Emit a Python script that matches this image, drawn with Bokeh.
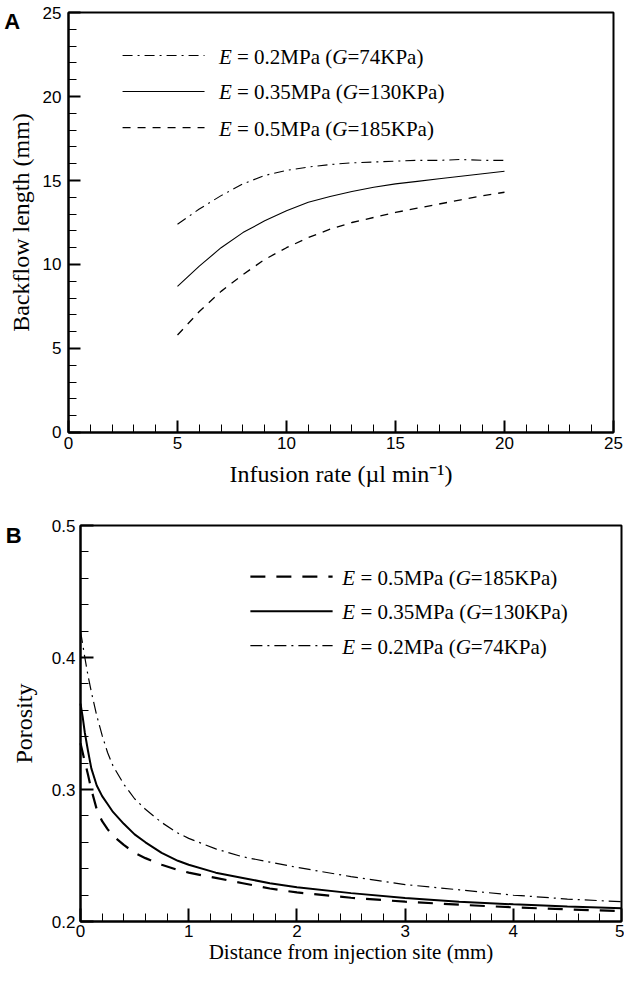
from bokeh.plotting import figure
from bokeh.models import FixedTicker, Label, Arrow, Range1d, BoxAnnotation
from bokeh.layouts import column
from bokeh.embed import file_html
from bokeh.resources import INLINE

# ---------------- Panel A data ----------------
rate = [5, 6, 7, 8, 9, 10, 11, 12, 13, 14, 15, 16, 17, 18, 19, 20]
backflow_e02 = [12.4, 13.3, 14.1, 14.8, 15.3, 15.6, 15.8, 15.95, 16.05, 16.1, 16.15, 16.2, 16.2, 16.25, 16.2, 16.2]
backflow_e035 = [8.7, 9.9, 11.0, 11.9, 12.6, 13.2, 13.7, 14.05, 14.35, 14.6, 14.8, 14.95, 15.1, 15.25, 15.4, 15.55]
backflow_e05 = [5.8, 7.2, 8.4, 9.4, 10.3, 11.0, 11.6, 12.1, 12.5, 12.8, 13.1, 13.35, 13.6, 13.85, 14.1, 14.3]

# ---------------- Panel B data ----------------
dist = [0, 0.02, 0.04, 0.07, 0.1, 0.15, 0.2, 0.25, 0.3, 0.4, 0.5, 0.6, 0.75, 0.9, 1.0,
        1.25, 1.5, 1.75, 2, 2.5, 3, 3.5, 4, 4.5, 5]
por_e02 = [0.420, 0.410, 0.400, 0.386, 0.374, 0.356, 0.341, 0.328, 0.318, 0.304, 0.293, 0.285, 0.275,
           0.267, 0.263, 0.255, 0.249, 0.245, 0.241, 0.234, 0.228, 0.224, 0.220, 0.217, 0.215]
por_e035 = [0.365, 0.355, 0.343, 0.329, 0.316, 0.303, 0.295, 0.289, 0.283, 0.274, 0.266, 0.260, 0.252,
            0.246, 0.243, 0.237, 0.233, 0.229, 0.226, 0.2215, 0.2178, 0.215, 0.213, 0.2113, 0.210]
por_e05 = [0.335, 0.328, 0.321, 0.311, 0.300, 0.285, 0.276, 0.270, 0.265, 0.258, 0.252, 0.248, 0.243,
           0.239, 0.237, 0.233, 0.229, 0.225, 0.222, 0.218, 0.215, 0.2127, 0.2107, 0.2092, 0.2078]

# legend texts: (E value, G value)
legend_a = [("0.2", "74"), ("0.35", "130"), ("0.5", "185")]
legend_b = [("0.5", "185"), ("0.35", "130"), ("0.2", "74")]

a_xticks = [0, 5, 10, 15, 20, 25]
a_xminor = list(range(0, 26))
a_yticks = [0, 5, 10, 15, 20, 25]
a_yminor = list(range(0, 26))
b_xticks = [0, 1, 2, 3, 4, 5]
b_xminor = [round(0.2 * i, 2) for i in range(26)]
b_yticks = [0.2, 0.3, 0.4, 0.5]
b_yminor = [round(0.2 + 0.02 * i, 2) for i in range(16)]

SERIF = "Liberation Serif"
SANS = "Liberation Sans"
NB = "\u00a0"

# Times-compatible metrics (em units)
ROMAN = {' ': .25, NB: .25, '=': .564, '.': .25, 'M': .889, 'P': .556, 'a': .444, '(': .333, ')': .333, 'K': .722}
for d in "0123456789":
    ROMAN[d] = .5


def twidth(s, size):
    return sum(ROMAN.get(c, .5) for c in s) * size


def style(p, xt, xm, yt, ym, xb, yb, maj_in, min_in, xstand, ystand):
    p.xgrid.visible = False
    p.ygrid.visible = False
    p.outline_line_color = None
    p.background_fill_color = "white"
    p.border_fill_color = "white"
    p.xaxis.ticker = FixedTicker(ticks=xt, minor_ticks=xm)
    p.yaxis.ticker = FixedTicker(ticks=yt, minor_ticks=ym)
    p.xaxis.fixed_location = yb[0]
    p.yaxis.fixed_location = xb[0]
    p.xaxis.bounds = xb
    p.yaxis.bounds = yb
    for ax in (p.xaxis, p.yaxis):
        ax.axis_line_width = 2
        ax.axis_line_color = "black"
        ax.major_tick_in = maj_in
        ax.major_tick_out = 0
        ax.minor_tick_in = min_in
        ax.minor_tick_out = 0
        ax.major_tick_line_width = 2
        ax.minor_tick_line_width = 1
        ax.major_tick_line_color = "black"
        ax.minor_tick_line_color = "black"
        ax.major_label_text_font = SANS
        ax.major_label_text_font_size = "17px"
        ax.major_label_text_color = "black"
        ax.axis_label_text_font = SERIF
        ax.axis_label_text_font_style = "normal"
        ax.axis_label_text_font_size = "24px"
        ax.axis_label_text_color = "black"
    p.xaxis.major_label_standoff = xstand
    p.yaxis.major_label_standoff = ystand
    p.add_layout(BoxAnnotation(left=xb[0], right=xb[1], bottom=yb[0], top=yb[1],
                               fill_color=None, line_color="black", line_alpha=1.0,
                               line_dash="solid", line_width=2))


def legend_entry(p, x0, x1, y, xt, dash, width, ev, gv, size=21):
    p.add_layout(Arrow(end=None, x_start=x0, y_start=y, x_end=x1, y_end=y,
                       line_dash=dash, line_width=width, line_color="black"))
    mid = NB + "=" + NB + ev + "MPa" + NB + "("
    parts = [("E", True, .611 * size),
             (mid, False, twidth(mid, size)),
             ("G", True, .722 * size),
             ("=" + gv + "KPa)", False, 0)]
    off = 0
    for txt, ital, w in parts:
        p.add_layout(Label(x=xt, y=y, x_offset=off, y_offset=-1, text=txt,
                           text_font=SERIF, text_font_size=f"{size}px",
                           text_font_style="italic" if ital else "normal",
                           text_baseline="middle", text_align="left", text_color="black"))
        off += w


# ---------------- Panel A ----------------
pA = figure(width=624, height=490, output_backend="svg", toolbar_location=None, title=None,
            x_range=Range1d(-3.1193, 25.5046), y_range=Range1d(-3.4524, 25.7143), min_border=0)
style(pA, a_xticks, a_xminor, a_yticks, a_yminor, (0, 25), (0, 25), 12, 8, 5, 7)
pA.xaxis.axis_label = "Infusion rate (\u00b5l min\u207b\u00b9)"
pA.yaxis.axis_label = "Backflow length (mm)"
pA.xaxis.axis_label_standoff = 8
pA.yaxis.axis_label_standoff = 6

pA.line(rate, backflow_e02, line_color="black", line_width=1.1, line_dash="10 5 2 5")
pA.line(rate, backflow_e035, line_color="black", line_width=1.1)
pA.line(rate, backflow_e05, line_color="black", line_width=1.3, line_dash="8 7")

a_dash = ["10 5 2 5", "solid", "8 7"]
a_rows = [22.44, 20.3, 18.15]
for (ev, gv), dsh, yy in zip(legend_a, a_dash, a_rows):
    legend_entry(pA, 2.48, 6.24, yy, 6.9, dsh, 1.1, ev, gv)

pA.add_layout(Label(x=-2.95, y=25.2, text="A", text_font=SANS, text_font_style="bold",
                    text_font_size="22px", text_baseline="top", text_align="left", text_color="black"))

# ---------------- Panel B ----------------
pB = figure(width=624, height=476, output_backend="svg", toolbar_location=None, title=None,
            x_range=Range1d(-0.7394, 5.0277), y_range=Range1d(0.16591, 0.52652), min_border=0)
style(pB, b_xticks, b_xminor, b_yticks, b_yminor, (0, 5), (0.2, 0.5), 13, 8, 3, 5)
pB.yaxis.axis_label = "Porosity"
pB.yaxis.axis_label_standoff = 12
pB.xaxis.axis_label = "Distance from injection site (mm)"
pB.xaxis.axis_label_standoff = 0
pB.xaxis.axis_label_text_font_size = "21px"

pB.line(dist, por_e05, line_color="black", line_width=2.2, line_dash="15 11")
pB.line(dist, por_e035, line_color="black", line_width=2.0)
pB.line(dist, por_e02, line_color="black", line_width=1.2, line_dash="12 5 2 5")

b_dash = ["15 11", "solid", "12 5 2 5"]
b_width = [2.2, 2.0, 1.2]
b_rows = [0.4612, 0.4351, 0.4090]
for (ev, gv), dsh, lw, yy in zip(legend_b, b_dash, b_width, b_rows):
    legend_entry(pB, 1.57, 2.33, yy, 2.42, dsh, lw, ev, gv)

pB.add_layout(Label(x=-0.69, y=0.5, y_offset=3, text="B", text_font=SANS, text_font_style="bold",
                    text_font_size="22px", text_baseline="top", text_align="left", text_color="black"))

layout = column(pA, pB, spacing=0)
open("out.html", "w").write(file_html(layout, INLINE))
